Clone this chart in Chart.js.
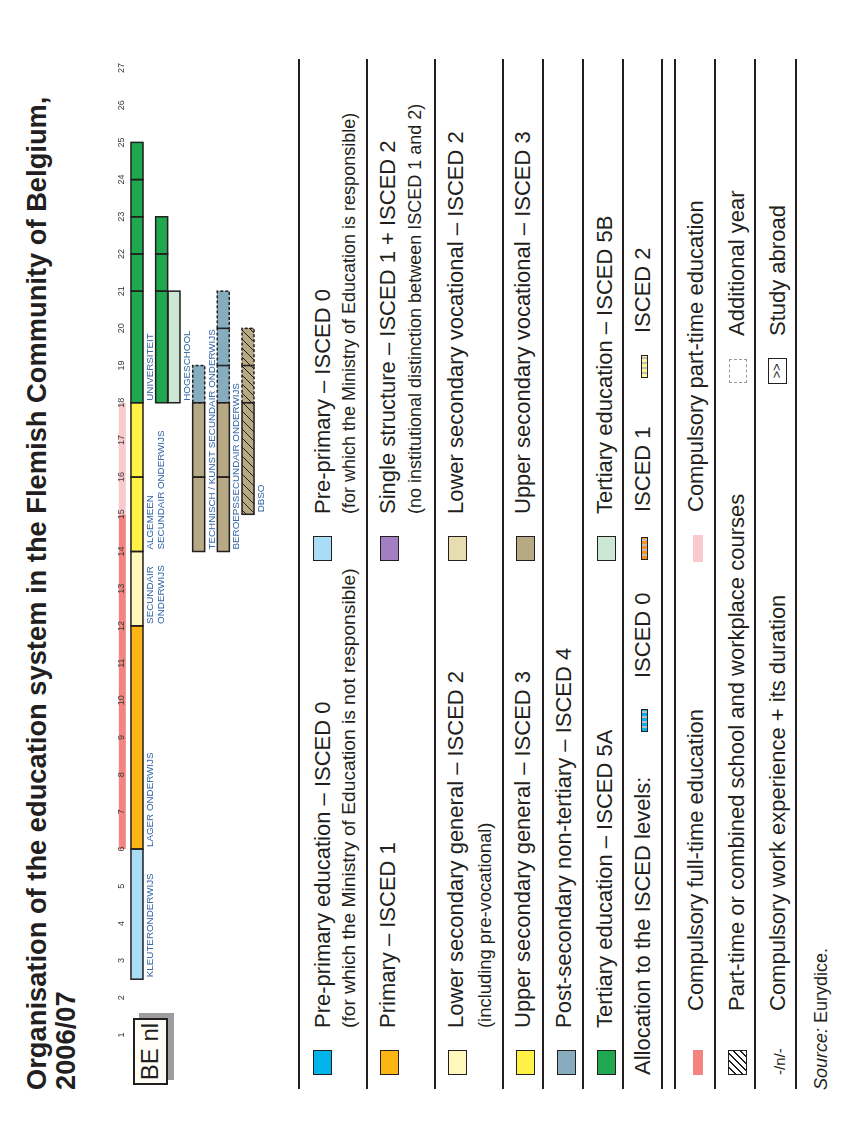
<!DOCTYPE html>
<html lang="en">
<head>
<meta charset="UTF-8" />
<title>Organisation of the education system in the Flemish Community of Belgium, 2006/07</title>
<script src="https://cdn.jsdelivr.net/npm/chart.js"></script>
<style>
  body { margin: 0; background: #fff; overflow: hidden; font-family: "Liberation Sans", Arial, sans-serif; color: #231f20; }
  /* sheet is laid out landscape (1136 x 845) and turned a quarter to the left */
  #page { position: absolute; left: 0; top: 0; width: 1136px; height: 845px; transform-origin: 0 0; transform: translateY(1136px) rotate(-90deg); }
  .t { position: absolute; white-space: nowrap; line-height: normal; }
  .main { font-size: 22px; }
  .sub { font-size: 18px; }
  .subl { font-size: 19.2px; }
  .sw { position: absolute; box-sizing: border-box; border: 1.5px solid #231f20; width: 25px; height: 19px; }
  .rule { position: absolute; left: 47px; width: 1030px; height: 2px; background: #231f20; }
  .iso { position: absolute; box-sizing: border-box; border: 1px solid #231f20; width: 23px; height: 7px; }
  h1 { position: absolute; left: 46px; top: 22px; margin: 0; font-size: 27.3px; line-height: 29px; font-weight: bold; white-space: nowrap; }
</style>
</head>
<body>
<div id="page">
  <h1>Organisation of the education system in the Flemish Community of Belgium,<br>2006/07</h1>

  <div style="position:absolute;left:56px;top:139px;width:67px;height:35px;background:#9d9d9f;"></div>
  <div style="position:absolute;left:51px;top:133px;width:67px;height:35px;box-sizing:border-box;border:2.5px solid #231f20;background:#fffef6;font-size:24px;line-height:30px;text-align:center;">BE nl</div>

  <canvas id="eduChart" width="1010" height="160" style="position:absolute;left:80px;top:104px;"></canvas>

  <!-- legend rules -->
  <div class="rule" style="top:298px"></div>
  <div class="rule" style="top:366px"></div>
  <div class="rule" style="top:434px"></div>
  <div class="rule" style="top:502px"></div>
  <div class="rule" style="top:542px"></div>
  <div class="rule" style="top:582px"></div>
  <div class="rule" style="top:622px"></div>
  <div class="rule" style="top:661px"></div>
  <div class="rule" style="top:674px"></div>
  <div class="rule" style="top:714px"></div>
  <div class="rule" style="top:754px"></div>
  <div class="rule" style="top:795px"></div>

  <!-- row 1 -->
  <div class="sw" style="left:61px;top:313px;background:#00b3ea"></div>
  <div class="t main" style="left:108px;top:310px">Pre-primary education – ISCED 0</div>
  <div class="t subl" style="left:108px;top:338px">(for which the Ministry of Education is not responsible)</div>
  <div class="sw" style="left:575px;top:313px;background:#a9dcf5"></div>
  <div class="t main" style="left:622px;top:310px">Pre-primary – ISCED 0</div>
  <div class="t sub" style="left:622px;top:339px">(for which the Ministry of Education is responsible)</div>

  <!-- row 2 -->
  <div class="sw" style="left:61px;top:380px;background:#fdb515"></div>
  <div class="t main" style="left:108px;top:375px">Primary – ISCED 1</div>
  <div class="sw" style="left:575px;top:380px;background:#a27fc0"></div>
  <div class="t main" style="left:622px;top:375px">Single structure – ISCED 1 + ISCED 2</div>
  <div class="t sub" style="left:622px;top:405px">(no institutional distinction between ISCED 1 and 2)</div>

  <!-- row 3 -->
  <div class="sw" style="left:61px;top:448px;background:#fff8bd"></div>
  <div class="t main" style="left:108px;top:443px">Lower secondary general – ISCED 2</div>
  <div class="t subl" style="left:108px;top:474px;font-size:18.4px">(including pre-vocational)</div>
  <div class="sw" style="left:575px;top:448px;background:#e8ddb0"></div>
  <div class="t main" style="left:622px;top:443px">Lower secondary vocational – ISCED 2</div>

  <!-- row 4 -->
  <div class="sw" style="left:61px;top:516px;background:#fff146"></div>
  <div class="t main" style="left:108px;top:510px">Upper secondary general – ISCED 3</div>
  <div class="sw" style="left:575px;top:516px;background:#b8a985"></div>
  <div class="t main" style="left:622px;top:510px">Upper secondary vocational – ISCED 3</div>

  <!-- row 5 -->
  <div class="sw" style="left:61px;top:557px;background:#86acbd"></div>
  <div class="t main" style="left:108px;top:551px">Post-secondary non-tertiary – ISCED 4</div>

  <!-- row 6 -->
  <div class="sw" style="left:61px;top:597px;background:#1fa84f"></div>
  <div class="t main" style="left:108px;top:592px">Tertiary education – ISCED 5A</div>
  <div class="sw" style="left:575px;top:597px;background:#cde7d5"></div>
  <div class="t main" style="left:622px;top:592px">Tertiary education – ISCED 5B</div>

  <!-- row 7 -->
  <div class="t main" style="left:61px;top:630px">Allocation to the ISCED levels:</div>
  <div class="iso" style="left:404px;top:641px;background:repeating-linear-gradient(90deg,#00b3ea 0 3px,#bdbdbd 3px 5px)"></div>
  <div class="t main" style="left:458px;top:630px">ISCED 0</div>
  <div class="iso" style="left:576px;top:641px;background:repeating-linear-gradient(90deg,#f7941d 0 3px,#bdbdbd 3px 5px)"></div>
  <div class="t main" style="left:624px;top:630px">ISCED 1</div>
  <div class="iso" style="left:758px;top:641px;background:repeating-linear-gradient(90deg,#fff59d 0 3px,#bdbdbd 3px 5px)"></div>
  <div class="t main" style="left:803px;top:630px">ISCED 2</div>

  <!-- row 8 -->
  <div style="position:absolute;left:61px;top:693px;width:25px;height:10px;background:#f4847f"></div>
  <div class="t main" style="left:125px;top:683px">Compulsory full-time education</div>
  <div style="position:absolute;left:574px;top:693px;width:27px;height:10px;background:#f9c9cd"></div>
  <div class="t main" style="left:624px;top:683px">Compulsory part-time education</div>

  <!-- row 9 -->
  <div class="sw" style="left:61px;top:728px;border-width:1.2px;background:repeating-linear-gradient(135deg,#fff 0 4px,#231f20 4px 5px)"></div>
  <div class="t main" style="left:125px;top:724px">Part-time or combined school and workplace courses</div>
  <div style="position:absolute;left:753px;top:729px;width:24px;height:18px;box-sizing:border-box;border:1.5px dashed #9a9a9a"></div>
  <div class="t main" style="left:800px;top:724px">Additional year</div>

  <!-- row 10 -->
  <div class="t" style="left:61px;top:771px;font-size:15px">-/n/-</div>
  <div class="t main" style="left:125px;top:765px">Compulsory work experience + its duration</div>
  <div style="position:absolute;left:752px;top:768px;width:26px;height:19px;box-sizing:border-box;border:1.5px solid #231f20;font-size:13px;line-height:16px;text-align:center;">&gt;&gt;</div>
  <div class="t main" style="left:800px;top:765px">Study abroad</div>

  <div class="t" style="left:46px;top:811px;font-size:18px"><i>Source:</i> Eurydice.</div>
</div>

<script>
  // rows of the diagram (some left empty to get the spacing of the original)
  const rows = ['main', 'gap1', 'univ', 'hoge', 'gap2', 'tech', 'gap3', 'beroeps', 'gap4', 'dbso'];

  // segments: [row, from age, to age]
  const prePrimarySeg = [['main', 2.5, 6]];
  const primarySeg = [['main', 6, 12]];
  const lowerSecSeg = [['main', 12, 14]];
  const upperSecSeg = [['main', 14, 16], ['main', 16, 18]];
  const tertiaryASeg = [['main', 18, 21], ['main', 21, 22], ['main', 22, 23], ['main', 23, 24], ['main', 24, 25],
                        ['univ', 18, 21], ['univ', 21, 22], ['univ', 22, 23]];
  const tertiaryBSeg = [['hoge', 18, 21]];
  const upperVocSeg = [['tech', 14, 16], ['tech', 16, 18], ['beroeps', 14, 16], ['beroeps', 16, 18]];
  const postSecSeg = [['tech', 18, 19], ['beroeps', 18, 19], ['beroeps', 19, 20], ['beroeps', 20, 21]];
  const dbsoSeg = [['dbso', 15, 18]];
  const dbsoExtraSeg = [['dbso', 18, 19], ['dbso', 19, 20]];

  // compulsory education band along the age axis
  const compulsoryFull = [6, 15];
  const compulsoryPart = [15, 18];

  const ageMin = 1;
  const ageMax = 27;

  // names written next to the bars: [row, start age, lines]
  const barLabels = [
    ['main', 2.5, ['KLEUTERONDERWIJS']],
    ['main', 6, ['LAGER ONDERWIJS']],
    ['main', 12, ['SECUNDAIR', 'ONDERWIJS']],
    ['main', 14, ['ALGEMEEN', 'SECUNDAIR ONDERWIJS']],
    ['main', 18, ['UNIVERSITEIT']],
    ['hoge', 18, ['HOGESCHOOL']],
    ['tech', 14, ['TECHNISCH / KUNST SECUNDAIR ONDERWIJS']],
    ['beroeps', 14, ['BEROEPSSECUNDAIR ONDERWIJS']],
    ['dbso', 15, ['DBSO']]
  ];

  function toData(segs) {
    return segs.map(s => ({ y: s[0], x: [s[1], s[2]] }));
  }

  // diagonal hatch for the part-time courses
  function hatch(bg) {
    const c = document.createElement('canvas');
    c.width = 9; c.height = 9;
    const g = c.getContext('2d');
    g.fillStyle = bg;
    g.fillRect(0, 0, 9, 9);
    g.strokeStyle = '#231f20';
    g.lineWidth = 1;
    g.beginPath();
    g.moveTo(-1, 10); g.lineTo(10, -1);
    g.stroke();
    return g.createPattern(c, 'repeat');
  }

  const compulsoryBand = {
    id: 'compulsoryBand',
    beforeDraw(chart) {
      const x = chart.scales.x;
      const top = chart.chartArea.top;
      const ctx = chart.ctx;
      ctx.save();
      ctx.fillStyle = '#f4847f';
      ctx.fillRect(x.getPixelForValue(compulsoryFull[0]), top - 12, x.getPixelForValue(compulsoryFull[1]) - x.getPixelForValue(compulsoryFull[0]), 7);
      ctx.fillStyle = '#f9c9cd';
      ctx.fillRect(x.getPixelForValue(compulsoryPart[0]), top - 12, x.getPixelForValue(compulsoryPart[1]) - x.getPixelForValue(compulsoryPart[0]), 7);
      ctx.restore();
    }
  };

  // outlines of every box, dashed ones first so solid edges stay on top
  const outlines = {
    id: 'outlines',
    afterDatasetsDraw(chart) {
      const ctx = chart.ctx;
      ctx.save();
      ctx.strokeStyle = '#231f20';
      ctx.lineWidth = 1.5;
      [true, false].forEach(dashedPass => {
        chart.data.datasets.forEach((ds, i) => {
          if (!!ds.dashed !== dashedPass) return;
          ctx.setLineDash(dashedPass ? [3, 2] : []);
          chart.getDatasetMeta(i).data.forEach(el => {
            const p = el.getProps(['x', 'y', 'base', 'height'], true);
            const l = Math.min(p.x, p.base), r = Math.max(p.x, p.base);
            ctx.strokeRect(l, p.y - p.height / 2, r - l, p.height);
          });
        });
      });
      ctx.restore();
    }
  };

  const nameLabels = {
    id: 'nameLabels',
    afterDatasetsDraw(chart) {
      const ctx = chart.ctx;
      const x = chart.scales.x, y = chart.scales.y;
      ctx.save();
      ctx.fillStyle = '#2e62a6';
      ctx.font = '9.8px "Liberation Sans", Arial, sans-serif';
      ctx.textBaseline = 'alphabetic';
      barLabels.forEach(lb => {
        const px = x.getPixelForValue(lb[1]) + 2;
        const py = y.getPixelForValue(rows.indexOf(lb[0])) + 6 + 10;
        lb[2].forEach((line, k) => ctx.fillText(line, px, py + k * 11.5));
      });
      ctx.restore();
    }
  };

  const tan = '#b8a985';

  new Chart(document.getElementById('eduChart'), {
    type: 'bar',
    data: {
      labels: rows,
      datasets: [
        { data: toData(prePrimarySeg), backgroundColor: '#a9dcf5' },
        { data: toData(primarySeg), backgroundColor: '#fdb515' },
        { data: toData(lowerSecSeg), backgroundColor: '#fff8bd' },
        { data: toData(upperSecSeg), backgroundColor: '#fff146' },
        { data: toData(tertiaryASeg), backgroundColor: '#1fa84f' },
        { data: toData(tertiaryBSeg), backgroundColor: '#cde7d5' },
        { data: toData(upperVocSeg), backgroundColor: tan },
        { data: toData(postSecSeg), backgroundColor: '#86acbd', dashed: true },
        { data: toData(dbsoSeg), backgroundColor: hatch(tan) },
        { data: toData(dbsoExtraSeg), backgroundColor: hatch(tan), dashed: true }
      ]
    },
    options: {
      indexAxis: 'y',
      responsive: false,
      animation: false,
      events: [],
      layout: { padding: { left: 21, right: 22, top: 8, bottom: 9.8 } },
      datasets: { bar: { grouped: false, barThickness: 12, borderWidth: 0 } },
      scales: {
        x: {
          type: 'linear',
          position: 'top',
          min: ageMin,
          max: ageMax,
          grid: { display: false, drawTicks: false },
          border: { display: false },
          ticks: { stepSize: 1, padding: 4, color: '#3a3a3a', font: { size: 9, family: '"Liberation Sans", Arial, sans-serif' }, maxRotation: 0, autoSkip: false }
        },
        y: { display: false }
      },
      plugins: { legend: { display: false }, tooltip: { enabled: false } }
    },
    plugins: [compulsoryBand, outlines, nameLabels]
  });
</script>
</body>
</html>
